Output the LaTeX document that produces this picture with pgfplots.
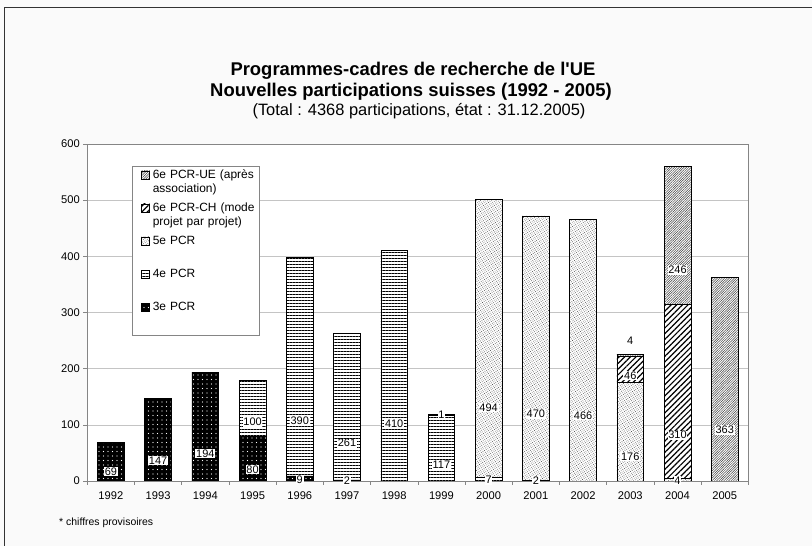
\documentclass[border=0pt]{standalone}
\usepackage{fontspec}
\setmainfont{Liberation Sans}[Ligatures=TeXOff]
\usepackage{pgfplots}
\usepackage{pgfplotstable}
\pgfplotsset{compat=1.18}
\usetikzlibrary{patterns,patterns.meta}
\definecolor{bgc}{HTML}{FAFAFA}
\definecolor{gridc}{HTML}{C4C4C4}
\definecolor{axc}{HTML}{858585}
\setlength{\fboxsep}{0.8bp}

\pgfplotstableread{
x p3 p4 p5 ch ue
0 69 0 0 0 0
1 147 0 0 0 0
2 194 0 0 0 0
3 80 100 0 0 0
4 9 390 0 0 0
5 2 261 0 0 0
6 0 410 0 0 0
7 0 117 1 0 0
8 0 7 494 0 0
9 0 2 470 0 0
10 0 0 466 0 0
11 0 0 176 46 4
12 0 0 4 310 246
13 0 0 0 0 363
}\datatable

\tikzset{
  s3/.style={fill=black, draw=black, postaction={pattern={Dots[distance=4.5bp,radius=0.65bp]}, pattern color=white}},
  s4/.style={fill=white, draw=black, postaction={pattern={Lines[angle=0,distance=3bp,line width=0.8bp]}, pattern color=black}},
  s5/.style={fill=white, draw=black, postaction={pattern={Dots[angle=30,distance=1.9bp,radius=0.42bp]}, pattern color=black!80}},
  sch/.style={fill=white, draw=black, postaction={pattern={Lines[angle=45,distance=4bp,line width=1.2bp]}, pattern color=black}},
  sue/.style={fill=white, draw=black, postaction={pattern={Lines[angle=45,distance=1.7bp,line width=0.5bp]}, pattern color=black!75}},
}

\begin{document}
\begin{tikzpicture}[x=1bp,y=1bp]
\useasboundingbox (0,0) rectangle (812,546);
\fill[bgc] (0,0) rectangle (812,546);
\draw[line width=1.3bp, black!80] (4.5,-5) -- (4.5,538.5) -- (817,538.5);
\node[anchor=base, font=\bfseries\fontsize{18.5}{22}\selectfont, inner sep=0pt] at (413,470) {Programmes-cadres de recherche de l'UE};
\node[anchor=base, font=\bfseries\fontsize{18.5}{22}\selectfont, inner sep=0pt] at (411,449) {Nouvelles participations suisses (1992 - 2005)};
\node[anchor=base, font=\fontsize{16.5}{20}\selectfont, inner sep=0pt] at (419,430) {(Total : 4368 participations, état : 31.12.2005)};
\node[anchor=base west, font=\fontsize{10.5}{12}\selectfont, inner sep=0pt] at (59,20) {* chiffres provisoires};
\begin{axis}[
  at={(87.3bp,65bp)}, anchor=south west, scale only axis,
  width=661bp, height=337bp,
  xmin=-0.5, xmax=13.5, ymin=0, ymax=600,
  ybar stacked, bar width=26.7bp,
  axis background/.style={fill=white},
  axis line style={axc, line width=0.6bp},
  ymajorgrids, major grid style={gridc, line width=0.6bp},
  tick style={axc, line width=0.6bp},
  major tick length=4bp, tick align=outside, tick pos=left,
  ytick={0,100,...,600},
  xtick={-0.5,0.5,...,13.5}, xticklabels={},
  extra x ticks={0,1,...,13},
  extra x tick labels={1992,1993,1994,1995,1996,1997,1998,1999,2000,2001,2002,2003,2004,2005},
  extra x tick style={major tick length=0pt, grid=none, xticklabel style={yshift=-7bp}},
  tick label style={font=\fontsize{11.2}{13}\selectfont},
  /pgf/number format/assume math mode=true,
  point meta=explicit,
  visualization depends on=rawy \as \rawy,
  nodes near coords={\pgfmathfloatifflags{\pgfplotspointmeta}{0}{}{\colorbox{white}{\pgfmathprintnumber{\pgfplotspointmeta}}}},
  nodes near coords align={center},
  every node near coord/.append style={font=\fontsize{11}{13}\selectfont, inner sep=0pt, text=black, shift={(axis direction cs:0,-\rawy/4)}},
  legend cell align=left,
  reverse legend,
  legend style={at={(0.0676,0.9347)}, anchor=north west, draw=axc, fill=white, line width=0.6bp,
    font=\fontsize{12}{14.5}\selectfont, inner xsep=3bp, inner ysep=2bp, row sep=0pt, column sep=2bp,
    nodes={inner sep=1bp, text width=102bp, align=left, text height=9bp, text depth=22bp, anchor=base west}},
  legend image code/.code={\path (-6bp,0bp); \draw[#1, line width=0.5bp] (0bp,-0.5bp) rectangle (8bp,7.5bp);},
]
\addplot[s3, line width=0.6bp] table[x=x,y=p3,meta=p3] {\datatable};
\addlegendentry{3e PCR}
\addplot[s4, line width=0.6bp] table[x=x,y=p4,meta=p4] {\datatable};
\addlegendentry{4e PCR}
\addplot[s5, line width=0.6bp] table[x=x,y=p5,meta=p5] {\datatable};
\addlegendentry{5e PCR}
\addplot[sch, line width=0.6bp] table[x=x,y=ch,meta=ch] {\datatable};
\addlegendentry{6e PCR-CH (mode\\projet par projet)}
\addplot[sue, line width=0.6bp, every node near coord/.append style={shift={(axis direction cs:0,{\rawy<5 ? 27 : 0})}}] table[x=x,y=ue,meta=ue] {\datatable};
\addlegendentry{6e PCR-UE (après\\association)}
\end{axis}
\end{tikzpicture}
\end{document}
